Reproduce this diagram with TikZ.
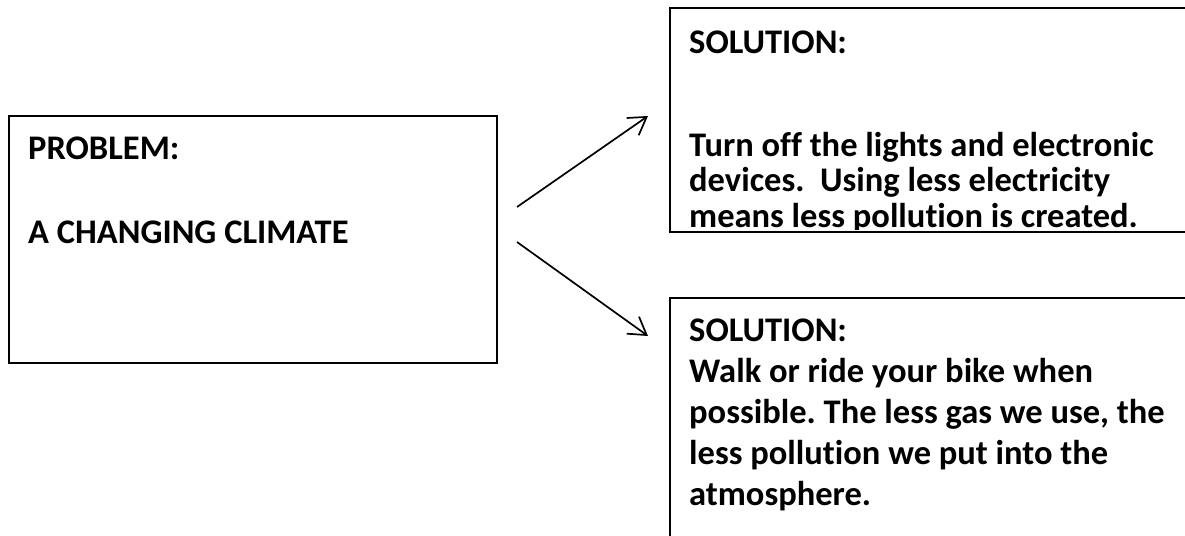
\documentclass[tikz,border=0pt]{standalone}
\usepackage{fontspec}
\setmainfont{Carlito}[Ligatures={NoCommon,NoContextual}]
\usetikzlibrary{arrows.meta}
\newcommand{\boxtext}[2]{\parbox[t]{560pt}{\raggedright\fontsize{34.5}{#1}\selectfont\bfseries\frenchspacing #2}}
\tikzset{
  box/.style={draw=black, line width=1.7pt, rectangle, anchor=north west, inner sep=0pt},
  txt/.style={anchor=base west, inner sep=0pt, text=black},
  arr/.style={draw=black, line width=1.7pt, -{Straight Barb[length=17pt,width=21pt,line width=1.7pt]}}
}
\begin{document}
\begin{tikzpicture}[x=1pt,y=-1pt]
\useasboundingbox (0,0) rectangle (1185,535);
\clip (0,0) rectangle (1185,535);
\fill[white] (0,0) rectangle (1185,535);
% boxes
\node[box, minimum width=488pt, minimum height=247pt] (prob) at (8,115) {};
\node[box, minimum width=540pt, minimum height=224pt] (sol1) at (669,7) {};
\node[box, minimum width=540pt, minimum height=270pt] (sol2) at (669,297) {};
% texts
\node[txt] (probtext) at (28,159) {\boxtext{42pt}{PROBLEM:\\[42pt]A CHANGING CLIMATE}};
\begin{scope}
\clip (670,8) rectangle (1185,229);
\node[txt] (sol1text) at (689,53) {\boxtext{35.5pt}{SOLUTION:\\[67.5pt]Turn off the lights and electronic\\devices.\ \ Using less electricity\\means less pollution is created.}};
\end{scope}
\node[txt] (sol2text) at (689,341) {\boxtext{41pt}{SOLUTION:\\Walk or ride your bike when\\possible. The less gas we use, the\\less pollution we put into the\\atmosphere.}};
% arrows
\coordinate (a1s) at (517,207);
\coordinate (a1e) at (648,116);
\coordinate (a2s) at (517,242);
\coordinate (a2e) at (648,336);
\draw[arr] (a1s) -- (a1e);
\draw[arr] (a2s) -- (a2e);
\end{tikzpicture}
\end{document}
